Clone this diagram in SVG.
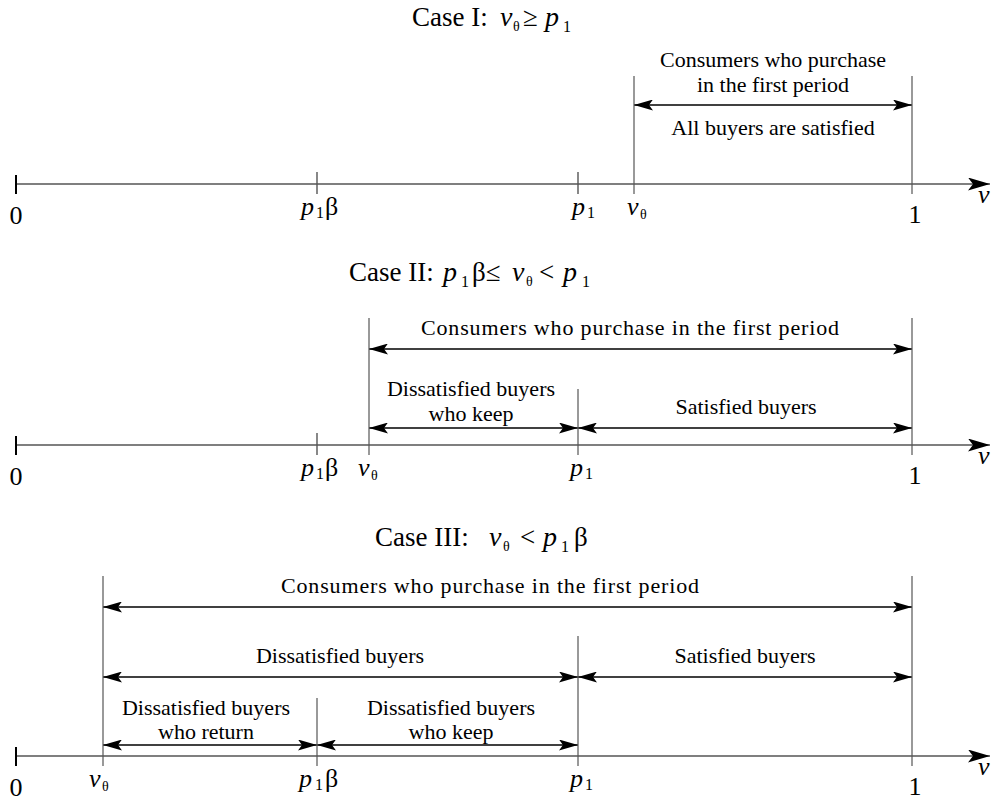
<svg xmlns="http://www.w3.org/2000/svg" width="993" height="801" viewBox="0 0 993 801">
<style>
text{font-family:"Liberation Serif","Times New Roman",serif;fill:#000}
.t{font-size:27px}
.m{font-size:28px;font-style:italic}
.lab{font-size:22px}
.ax{font-size:26px}
.i{font-style:italic}
.s{font-size:16px}
.sg{font-size:14px}
.axis{stroke:#555;stroke-width:1.6;fill:none}
.tick{stroke:#555;stroke-width:1.4}
.v{stroke:#555;stroke-width:1.2}
.st{stroke:#000;stroke-width:2}
.dim{stroke:#000;stroke-width:1.4;fill:none;marker-start:url(#a);marker-end:url(#a)}
</style>
<defs>
<marker id="a" viewBox="0 0 19 11" refX="19" refY="5.5" markerWidth="19" markerHeight="11" markerUnits="userSpaceOnUse" orient="auto-start-reverse"><path d="M0,0 L19,5.5 L0,11 L4,5.5 Z" fill="#000"/></marker>
<marker id="ah" viewBox="0 0 22 13" refX="22" refY="6.5" markerWidth="22" markerHeight="13" markerUnits="userSpaceOnUse" orient="auto"><path d="M0,0 L22,6.5 L0,13 L5,6.5 Z" fill="#000"/></marker>
</defs>

<g id="connectors">
<line class="axis" x1="16" y1="184" x2="990" y2="184" marker-end="url(#ah)"/>
<line class="axis" x1="16" y1="445" x2="990" y2="445" marker-end="url(#ah)"/>
<line class="axis" x1="16" y1="756" x2="990" y2="756" marker-end="url(#ah)"/>
<line class="dim" x1="634" y1="105" x2="912" y2="105"/>
<line class="dim" x1="369" y1="349" x2="912" y2="349"/>
<line class="dim" x1="369" y1="428" x2="578" y2="428"/>
<line class="dim" x1="578" y1="428" x2="912" y2="428"/>
<line class="dim" x1="103" y1="607" x2="912" y2="607"/>
<line class="dim" x1="103" y1="677" x2="578" y2="677"/>
<line class="dim" x1="578" y1="677" x2="912" y2="677"/>
<line class="dim" x1="103" y1="745" x2="317" y2="745"/>
<line class="dim" x1="317" y1="745" x2="578" y2="745"/>
</g>

<!-- Case I -->
<g id="case1">
<text class="t" y="26"><tspan x="412">Case I:</tspan><tspan class="m" x="500">v</tspan><tspan class="sg" x="513" dy="5">θ</tspan><tspan x="523" dy="-5">≥</tspan><tspan class="m" x="545">p</tspan><tspan class="s" x="563" dy="6">1</tspan></text>
<line class="st" x1="16" y1="175" x2="16" y2="194"/>
<line class="tick" x1="317" y1="172" x2="317" y2="194"/>
<line class="tick" x1="578" y1="172" x2="578" y2="194"/>
<line class="v" x1="634" y1="76" x2="634" y2="194"/>
<line class="v" x1="912" y1="76" x2="912" y2="194"/>
<text class="ax" x="16" y="224" text-anchor="middle">0</text>
<text class="ax" y="215"><tspan class="i" x="301">p</tspan><tspan class="s" x="316" dy="3">1</tspan><tspan x="325" dy="-3">β</tspan></text>
<text class="ax" y="215"><tspan class="i" x="572">p</tspan><tspan class="s" x="587" dy="3">1</tspan></text>
<text class="ax" y="215"><tspan class="i" x="627">v</tspan><tspan class="sg" x="640" dy="4">θ</tspan></text>
<text class="ax" x="915" y="223" text-anchor="middle">1</text>
<text class="ax i" x="978" y="203">v</text>
<text class="lab" x="773" y="67" text-anchor="middle">Consumers who purchase</text>
<text class="lab" x="773" y="92" text-anchor="middle">in the first period</text>
<text class="lab" x="773" y="135" text-anchor="middle">All buyers are satisfied</text>
</g>

<!-- Case II -->
<g id="case2">
<text class="t" y="281"><tspan x="349">Case II:</tspan><tspan class="m" x="443">p</tspan><tspan class="s" x="461" dy="6">1</tspan><tspan x="472" dy="-6">β≤</tspan><tspan class="m" x="512">v</tspan><tspan class="sg" x="526" dy="5">θ</tspan><tspan x="539" dy="-5">&lt;</tspan><tspan class="m" x="563">p</tspan><tspan class="s" x="582" dy="6">1</tspan></text>
<line class="st" x1="16" y1="436" x2="16" y2="455"/>
<line class="tick" x1="317" y1="433" x2="317" y2="455"/>
<line class="v" x1="369" y1="318" x2="369" y2="455"/>
<line class="v" x1="578" y1="389" x2="578" y2="455"/>
<line class="v" x1="912" y1="318" x2="912" y2="455"/>
<text class="ax" x="16" y="485" text-anchor="middle">0</text>
<text class="ax" y="476"><tspan class="i" x="301">p</tspan><tspan class="s" x="316" dy="3">1</tspan><tspan x="325" dy="-3">β</tspan></text>
<text class="ax" y="476"><tspan class="i" x="358">v</tspan><tspan class="sg" x="371" dy="4">θ</tspan></text>
<text class="ax" y="476"><tspan class="i" x="570">p</tspan><tspan class="s" x="585" dy="3">1</tspan></text>
<text class="ax" x="915" y="484" text-anchor="middle">1</text>
<text class="ax i" x="978" y="464">v</text>
<text class="lab" x="421" y="335" textLength="418" lengthAdjust="spacing">Consumers who purchase in the first period</text>
<text class="lab" x="471" y="396" text-anchor="middle">Dissatisfied buyers</text>
<text class="lab" x="471" y="421" text-anchor="middle">who keep</text>
<text class="lab" x="746" y="414" text-anchor="middle">Satisfied buyers</text>
</g>

<!-- Case III -->
<g id="case3">
<text class="t" y="546"><tspan x="375">Case III:</tspan><tspan class="m" x="489">v</tspan><tspan class="sg" x="503" dy="5">θ</tspan><tspan x="520" dy="-5">&lt;</tspan><tspan class="m" x="543">p</tspan><tspan class="s" x="561" dy="6">1</tspan><tspan x="574" dy="-6">β</tspan></text>
<line class="st" x1="16" y1="747" x2="16" y2="766"/>
<line class="v" x1="103" y1="576" x2="103" y2="766"/>
<line class="v" x1="317" y1="698" x2="317" y2="766"/>
<line class="v" x1="578" y1="636" x2="578" y2="766"/>
<line class="v" x1="912" y1="576" x2="912" y2="766"/>
<text class="ax" x="16" y="796" text-anchor="middle">0</text>
<text class="ax" y="787"><tspan class="i" x="89">v</tspan><tspan class="sg" x="102" dy="4">θ</tspan></text>
<text class="ax" y="787"><tspan class="i" x="299">p</tspan><tspan class="s" x="315" dy="3">1</tspan><tspan x="325" dy="-3">β</tspan></text>
<text class="ax" y="787"><tspan class="i" x="570">p</tspan><tspan class="s" x="585" dy="3">1</tspan></text>
<text class="ax" x="915" y="795" text-anchor="middle">1</text>
<text class="ax i" x="978" y="775">v</text>
<text class="lab" x="281" y="593" textLength="418" lengthAdjust="spacing">Consumers who purchase in the first period</text>
<text class="lab" x="340" y="663" text-anchor="middle">Dissatisfied buyers</text>
<text class="lab" x="745" y="663" text-anchor="middle">Satisfied buyers</text>
<text class="lab" x="206" y="715" text-anchor="middle">Dissatisfied buyers</text>
<text class="lab" x="206" y="739" text-anchor="middle">who return</text>
<text class="lab" x="451" y="715" text-anchor="middle">Dissatisfied buyers</text>
<text class="lab" x="451" y="739" text-anchor="middle">who keep</text>
</g>
</svg>
